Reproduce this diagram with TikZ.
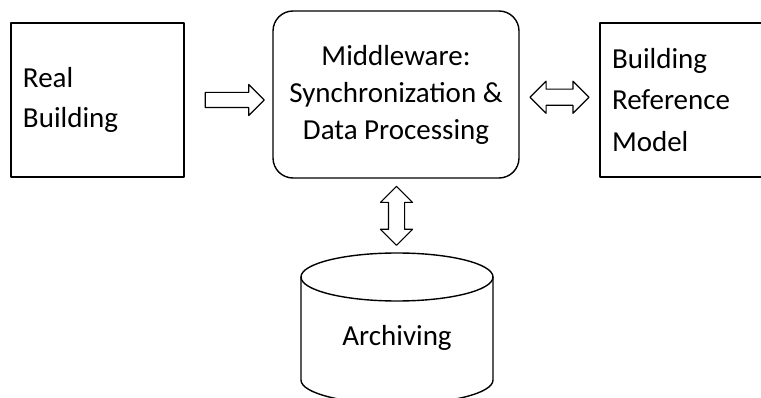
\documentclass[tikz,border=0pt]{standalone}
\usepackage{fontspec}
\setmainfont{Carlito}
\usepackage{tikz}
\usetikzlibrary{arrows.meta,calc,positioning,shapes.arrows}
\tikzset{
  >=Stealth,
  every picture/.style={line cap=round,line join=round},
  box/.style={draw, line width=1.4pt, minimum width=173pt, minimum height=154pt,
    inner xsep=12pt, text width=149pt, align=left},
  midbox/.style={draw, line width=1.4pt, rounded corners=20pt, minimum width=246pt,
    minimum height=167pt, align=center},
  fatarrow/.style={draw, line width=1.1pt, single arrow, inner xsep=0pt, inner ysep=7pt,
    single arrow head extend=8pt, single arrow tip angle=90, minimum height=59pt},
  fatdarrow/.style={draw, line width=1.1pt, double arrow, inner xsep=0pt, inner ysep=7.5pt,
    double arrow head extend=8pt, double arrow tip angle=90, minimum height=59pt},
}

\begin{document}
\begin{tikzpicture}[x=1pt, y=1pt]
    \useasboundingbox (0,0) rectangle (761,-398);
    \clip (0,0) rectangle (761,-398);
    % Bloecke
    \node[box, font=\fontsize{29}{40}\selectfont] (real) at (97.5,-100) {Real\\Building};
    \node[midbox, font=\fontsize{29}{37}\selectfont] (mid) at (396,-94.5)
      {Middleware:\\Synchronization \&\\Data Processing};
    \node[box, font=\fontsize{29}{41.5}\selectfont] (ref) at (686.5,-100)
      {Building\\Reference\\Model};
    % Archiv (Zylinder)
    \coordinate (archtop) at (397,-253);
    \draw[line width=1.4pt] (397,-277) ellipse [x radius=96, y radius=24];
    \draw[line width=1.4pt] (301,-277) -- (301,-380)
      arc [start angle=180, end angle=360, x radius=96, y radius=24] -- (493,-277);
    \node[anchor=base, font=\fontsize{29}{37}\selectfont] (arch) at (397,-345) {Archiving};
    % Blockpfeile
    \node[fatarrow, anchor=west] (a1) at ($(real.east)+(20,0)$) {};
    \node[fatdarrow] (a2) at ($(mid.east)!0.5!(ref.west)$) {};
    \node[fatdarrow, rotate=90] (a3) at ($(mid.south)!0.5!(archtop)$) {};
\end{tikzpicture}
\end{document}
